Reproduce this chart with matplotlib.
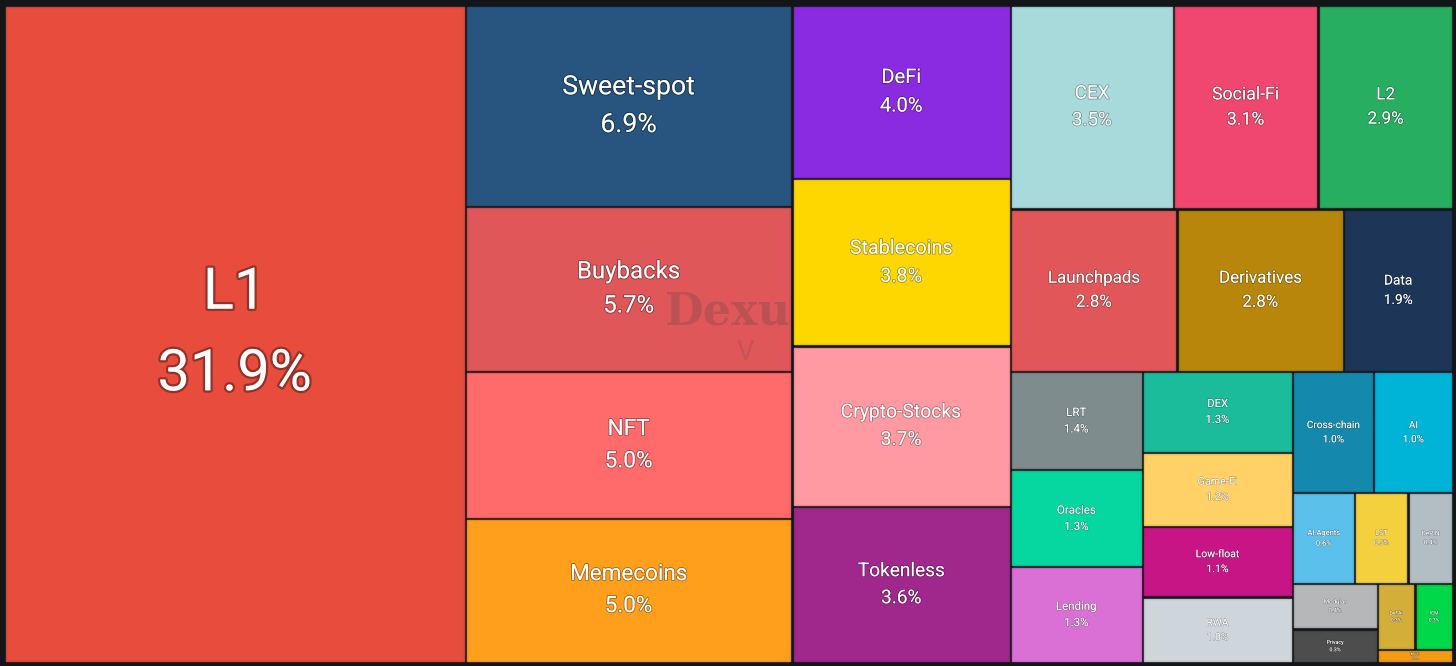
import math
import matplotlib
matplotlib.use("Agg")
import matplotlib.pyplot as plt
from matplotlib.patches import Rectangle
import matplotlib.patheffects as pe

# ---------------- data ----------------
categories = ["L1", "Sweet-spot", "Buybacks", "NFT", "Memecoins", "DeFi", "Stablecoins",
              "Crypto-Stocks", "Tokenless", "CEX", "Social-Fi", "L2", "Launchpads",
              "Derivatives", "Data", "LRT", "Oracles", "Lending", "DEX", "Game-Fi",
              "Low-float", "RWA", "Cross-chain", "AI", "AI-Agents", "LST", "DePIN",
              "Modular", "Privacy", "DeFAI", "ICM", "BTC-Fi"]
# market-cap share in %, estimated from tile areas (labels show one decimal)
shares = [31.86, 6.91, 5.66, 5.04, 4.97, 3.98, 3.84,
          3.68, 3.59, 3.49, 3.10, 2.89, 2.84,
          2.84, 1.87, 1.36, 1.34, 1.33, 1.28, 1.17,
          1.12, 1.045, 1.03, 1.01, 0.59, 0.51, 0.43,
          0.40, 0.30, 0.26, 0.26, 0.11]
colors = ["#E74C3C", "#28557F", "#E0575A", "#FF6B6B", "#FF9F1C", "#8A2BE2", "#FFD700",
          "#FF9AA2", "#A0288D", "#A8DADC", "#EF476F", "#27AE60", "#E15759",
          "#B8860B", "#1D3557", "#7F8C8D", "#06D6A0", "#DA70D6", "#1ABC9C", "#FFD166",
          "#C71585", "#CED6DC", "#1589AD", "#00B4D8", "#5BC0EB", "#F4D03F", "#B2BEC3",
          "#B5B7B8", "#4D4D4D", "#D4AF37", "#00D84A", "#F39C12"]

BG = "#131519"
W, H = 1456, 666
ROOT = (4.0, 5.0, 1449.0, 658.0)   # x, y, w, h in pixel space of the axes
HALF_GAP = 1.6
RATIO = 0.5 * (1 + math.sqrt(5))


def worst(areas, fixed, ratio):
    s = sum(areas)
    if s <= 0:
        return float("inf")
    amax, amin = max(areas), min(areas)
    f = fixed * fixed * ratio
    return max(f * amax / (s * s), (s * s) / (f * amin))


def position(row, fixed, rect, flush, out):
    horiz = (fixed == rect[2])
    area = sum(a for _, a in row)
    other = area / fixed if fixed else 0
    if horiz:
        if flush or other > rect[3]:
            other = rect[3]
        last = rect[0]
        for i, (idx, a) in enumerate(row):
            step = a / other if other else 0
            remain = rect[0] + rect[2] - last
            mod = remain if (i == len(row) - 1 or remain < step) else step
            out[idx] = (last, rect[1], mod, other)
            last += mod
        rect[1] += other
        rect[3] -= other
    else:
        if flush or other > rect[2]:
            other = rect[2]
        last = rect[1]
        for i, (idx, a) in enumerate(row):
            step = a / other if other else 0
            remain = rect[1] + rect[3] - last
            mod = remain if (i == len(row) - 1 or remain < step) else step
            out[idx] = (rect[0], last, other, mod)
            last += mod
        rect[0] += other
        rect[2] -= other


def squarify(values, root):
    rect = list(root)
    total = sum(values)
    areas = [v / total * root[2] * root[3] for v in values]
    out = [None] * len(values)
    fixed = min(rect[2], rect[3])
    best = float("inf")
    row = []
    i = 0
    while i < len(values):
        row.append((i, areas[i]))
        score = worst([a for _, a in row], fixed, RATIO)
        if score <= best:
            i += 1
            best = score
        else:
            row.pop()
            position(row, fixed, rect, False, out)
            fixed = min(rect[2], rect[3])
            row = []
            best = float("inf")
    if row:
        position(row, fixed, rect, True, out)
    return out


def darker(c, f=0.85):
    r, g, b = matplotlib.colors.to_rgb(c)
    return (r * f, g * f, b * f)


rects = squarify(shares, ROOT)

fig = plt.figure(figsize=(W / 100, H / 100), dpi=100)
fig.patch.set_facecolor(BG)
ax = fig.add_axes([0, 0, 1, 1])
ax.set_xlim(0, W)
ax.set_ylim(H, 0)
ax.axis("off")
ax.set_facecolor(BG)

FONT = ["Roboto", "DejaVu Sans"]

for name, val, col, (x, y, w, h) in zip(categories, shares, colors, rects):
    gx, gy = x + HALF_GAP, y + HALF_GAP
    gw, gh = max(w - 2 * HALF_GAP, 0), max(h - 2 * HALF_GAP, 0)
    ax.add_patch(Rectangle((gx, gy), gw, gh, facecolor=col,
                           edgecolor=darker(col, 0.9), linewidth=1.0))
    fpx = 0.105 * math.sqrt(gw * gh)
    label = f"{val:.1f}%"
    maxchars = max(len(name), len(label))
    fpx = min(fpx, 0.85 * gw / (0.56 * maxchars))
    fpx = max(fpx, 3.0)
    fpt = fpx * 0.72
    cx, cy = gx + gw / 2, gy + gh / 2
    sp = 1.42 * fpx
    stroke = [pe.withStroke(linewidth=max(fpt * 0.08, 0.6), foreground=(0, 0, 0, 0.35))]
    ax.text(cx, cy - sp / 2, name, color="white", fontsize=fpt, family=FONT,
            ha="center", va="center", path_effects=stroke)
    ax.text(cx, cy + sp / 2, label, color="white", fontsize=fpt, family=FONT,
            ha="center", va="center", path_effects=stroke)

# faint watermark
ax.text(728, 312, "Dexu", color=(0.25, 0.25, 0.25, 0.22), fontsize=32,
        family=["DejaVu Serif"], fontweight="bold", ha="center", va="center")
ax.text(745, 352, "V", color=(0.25, 0.25, 0.25, 0.15), fontsize=20,
        family=FONT, ha="center", va="center")

fig.savefig("out.png", dpi=100, facecolor=BG)
